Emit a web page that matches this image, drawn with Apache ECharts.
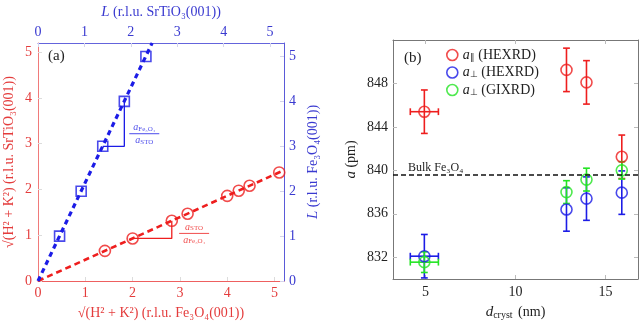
<!DOCTYPE html>
<html><head><meta charset="utf-8">
<script src="https://cdn.jsdelivr.net/npm/echarts@6/dist/echarts.min.js"></script>
<style>html,body{margin:0;padding:0;background:#fff}#c{width:640px;height:325px}</style>
</head><body><div id="c"></div>
<script>
// ---------- Panel (a) ----------
const redX = [1.414, 2.0, 2.828, 3.162, 4.0, 4.243, 4.472, 5.099];
const redY = [0.658, 0.93, 1.315, 1.47, 1.86, 1.973, 2.08, 2.372];
const blueX = [0.465, 0.93, 1.395, 1.86, 2.325];
const blueY = [1, 2, 3, 4, 5];
const redFitX = [0, 5.2];
const redFitY = [0, 2.42];
const blueFitX = [0, 2.46];
const blueFitY = [0, 5.3];
const redStepX = [2.0, 2.828, 2.828];
const redStepY = [0.93, 0.93, 1.315];
const blueStepX = [1.395, 1.86, 1.86];
const blueStepY = [3, 3, 4];
const redFracPos = [3.3, 1.04];
const blueFracPos = [2.29, 3.28];
const ticksA = [0, 1, 2, 3, 4, 5];
// ---------- Panel (b) ----------
const dCryst = [4.94, 12.83, 13.94, 15.9];
const dErr = [0.78, 0, 0, 0];
const aParHEX = [845.4, 849.25, 848.1, 841.25];
const aParHEXErr = [2, 2, 2, 2];
const aPerpHEX = [832.1, 836.4, 837.4, 837.95];
const aPerpHEXErr = [2, 2, 2, 2];
const aPerpGIX = [831.55, 838.0, 839.15, 840.0];
const aPerpGIXErr = [0.95, 1.05, 1.05, 0.8];
const bulkFe3O4 = 839.6;
const ticksBX = [5, 10, 15];
const ticksBY = [832, 836, 840, 844, 848];

const RED = 'rgb(238,30,30)', BLUE = 'rgb(28,28,230)', GREEN = 'rgb(35,228,35)';
const RED_T = '#e43c3c', BLUE_T = '#3a3ad0';
const FF = 'Liberation Serif';
const pairs = (xs, ys) => xs.map((x, i) => [x, ys[i]]);

function errRender(color) {
  return function (params, api) {
    const x = api.value(0), y = api.value(1), ey = api.value(2), ex = api.value(3);
    const c = api.coord([x, y]);
    const t = api.coord([x, y + ey]), b = api.coord([x, y - ey]);
    const cap = 3.4;
    const st = { stroke: color, lineWidth: 1.6 };
    const ch = [
      { type: 'line', shape: { x1: c[0], y1: t[1], x2: c[0], y2: b[1] }, style: st },
      { type: 'line', shape: { x1: c[0] - cap, y1: t[1], x2: c[0] + cap, y2: t[1] }, style: st },
      { type: 'line', shape: { x1: c[0] - cap, y1: b[1], x2: c[0] + cap, y2: b[1] }, style: st }
    ];
    if (ex > 0) {
      const l = api.coord([x - ex, y]), r = api.coord([x + ex, y]);
      ch.push({ type: 'line', shape: { x1: l[0], y1: c[1], x2: r[0], y2: c[1] }, style: st });
      ch.push({ type: 'line', shape: { x1: l[0], y1: c[1] - cap, x2: l[0], y2: c[1] + cap }, style: st });
      ch.push({ type: 'line', shape: { x1: r[0], y1: c[1] - cap, x2: r[0], y2: c[1] + cap }, style: st });
    }
    return { type: 'group', children: ch };
  };
}

function fracRich(color) {
  return {
    n: { fontFamily: FF, fontStyle: 'italic', fontSize: 10, color: color, lineHeight: 10 },
    s: { fontFamily: FF, fontSize: 7, color: color, lineHeight: 10, padding: [3, 0, 0, 0] },
    bar: { width: 30, height: 1, backgroundColor: color, lineHeight: 3, fontSize: 1 }
  };
}

const nameRich = (color) => ({
  color: color, fontFamily: FF, fontSize: 14,
  rich: { i: { fontStyle: 'italic', fontFamily: FF, fontSize: 15, color: color } }
});
const labStyle = (color, cv) => ({ color: color, fontFamily: FF, fontSize: 14, customValues: cv });

const chart = echarts.init(document.getElementById('c'), null, { renderer: 'canvas' });
chart.setOption({
  animation: false,
  backgroundColor: '#fff',
  grid: [
    { left: 38, top: 38, width: 246, height: 246 },
    { left: 393, top: 40, width: 245, height: 245 }
  ],
  xAxis: [
    { gridIndex: 0, type: 'value', position: 'bottom', min: 0, max: 5.2,
      axisLine: { onZero: false, lineStyle: { color: '#ee6060', width: 1 } },
      axisTick: { inside: true, length: 4, customValues: ticksA, lineStyle: { color: '#dcdcdc' } },
      axisLabel: Object.assign(labStyle(RED_T, ticksA), { margin: 5 }),
      splitLine: { show: false },
      name: '√(H² + K²) (r.l.u. Fe₃O₄(001))', nameLocation: 'middle', nameGap: 25,
      nameTextStyle: nameRich(RED_T) },
    { gridIndex: 0, type: 'value', position: 'top', min: 0, max: 5.3,
      axisLine: { onZero: false, lineStyle: { color: '#6464dc', width: 1 } },
      axisTick: { inside: true, length: 4, customValues: ticksA, lineStyle: { color: '#d4d4ec' } },
      axisLabel: Object.assign(labStyle(BLUE_T, ticksA), { margin: 4 }),
      splitLine: { show: false },
      name: '{i|L} (r.l.u. SrTiO₃(001))', nameLocation: 'middle', nameGap: 23,
      nameTextStyle: nameRich(BLUE_T) },
    { gridIndex: 1, type: 'value', position: 'bottom', min: 3.2, max: 16.8,
      axisLine: { onZero: false, lineStyle: { color: '#777', width: 1 } },
      axisTick: { inside: true, length: 4, customValues: ticksBX, lineStyle: { color: '#bbb' } },
      axisLabel: Object.assign(labStyle('#222', ticksBX), { margin: 6 }),
      splitLine: { show: false },
      name: '{i|d}{s|cryst} (nm)', nameLocation: 'middle', nameGap: 25,
      nameTextStyle: { color: '#222', fontFamily: FF, fontSize: 14,
        rich: { i: { fontStyle: 'italic', fontFamily: FF, fontSize: 15, color: '#222' },
                s: { fontFamily: FF, fontSize: 10, color: '#222', padding: [6, 2, 0, 0] } } } },
    { gridIndex: 1, type: 'value', position: 'top', min: 3.2, max: 16.8,
      axisLine: { onZero: false, lineStyle: { color: '#777', width: 1 } },
      axisTick: { inside: true, length: 4, customValues: ticksBX, lineStyle: { color: '#bbb' } },
      axisLabel: { show: false }, splitLine: { show: false } }
  ],
  yAxis: [
    { gridIndex: 0, type: 'value', position: 'left', min: 0, max: 5.2,
      axisLine: { onZero: false, lineStyle: { color: '#f07a7a', width: 1 } },
      axisTick: { inside: true, length: 4, customValues: ticksA, lineStyle: { color: '#dcdcdc' } },
      axisLabel: Object.assign(labStyle(RED_T, ticksA), { margin: 6 }),
      splitLine: { show: false },
      name: '√(H² + K²) (r.l.u. SrTiO₃(001))', nameLocation: 'middle', nameGap: 22,
      nameTextStyle: nameRich(RED_T) },
    { gridIndex: 0, type: 'value', position: 'right', min: 0, max: 5.3,
      axisLine: { onZero: false, lineStyle: { color: '#5a5ad8', width: 1 } },
      axisTick: { inside: true, length: 4, customValues: ticksA, lineStyle: { color: '#d4d4ec' } },
      axisLabel: Object.assign(labStyle(BLUE_T, ticksA), { margin: 5 }),
      splitLine: { show: false },
      name: '{i|L} (r.l.u. Fe₃O₄(001))', nameLocation: 'middle', nameGap: 22,
      nameTextStyle: nameRich(BLUE_T) },
    { gridIndex: 1, type: 'value', position: 'left', min: 830, max: 852,
      axisLine: { onZero: false, lineStyle: { color: '#777', width: 1 } },
      axisTick: { inside: true, length: 4, customValues: ticksBY, lineStyle: { color: '#bbb' } },
      axisLabel: Object.assign(labStyle('#222', ticksBY), { margin: 5 }),
      splitLine: { show: false },
      name: '{i|a} (pm)', nameLocation: 'middle', nameGap: 34,
      nameTextStyle: nameRich('#222') },
    { gridIndex: 1, type: 'value', position: 'right', min: 830, max: 852,
      axisLine: { onZero: false, lineStyle: { color: '#777', width: 1 } },
      axisTick: { inside: true, length: 4, customValues: ticksBY, lineStyle: { color: '#bbb' } },
      axisLabel: { show: false }, splitLine: { show: false } }
  ],
  legend: {
    left: 446, top: 48, padding: 0, orient: 'vertical', itemWidth: 11, itemHeight: 11, itemGap: 3.5,
    icon: 'circle',
    textStyle: { fontFamily: FF, fontSize: 14, color: '#222',
      rich: { i: { fontStyle: 'italic', fontFamily: FF, fontSize: 14, color: '#222' },
              s: { fontFamily: FF, fontSize: 9, color: '#222', padding: [5, 0, 0, 0] } } },
    formatter: function (name) {
      const m = name.split('|');
      return '{i|a}{s|' + m[0] + '} ' + m[1];
    },
    data: [
      { name: '∥|(HEXRD)', itemStyle: { color: 'rgba(0,0,0,0)', borderColor: RED, borderWidth: 1.6 } },
      { name: '⊥|(HEXRD)', itemStyle: { color: 'rgba(0,0,0,0)', borderColor: BLUE, borderWidth: 1.6 } },
      { name: '⊥|(GIXRD)', itemStyle: { color: 'rgba(0,0,0,0)', borderColor: GREEN, borderWidth: 1.6 } }
    ]
  },
  graphic: [
    { type: 'text', left: 48, top: 49, style: { text: '(a)', fontFamily: FF, fontSize: 15, fill: '#222' } },
    { type: 'text', left: 404, top: 51, style: { text: '(b)', fontFamily: FF, fontSize: 15, fill: '#222' } }
  ],
  series: [
    // Panel (a)
    { type: 'line', xAxisIndex: 0, yAxisIndex: 0, data: pairs(redFitX, redFitY), symbol: 'none',
      lineStyle: { color: RED, width: 2.6, type: [6, 4] }, silent: true },
    { type: 'line', xAxisIndex: 0, yAxisIndex: 0, data: pairs(redStepX, redStepY), symbol: 'none',
      lineStyle: { color: RED, width: 1.3 }, silent: true },
    { type: 'scatter', xAxisIndex: 0, yAxisIndex: 0, data: pairs(redX, redY), symbol: 'circle', symbolSize: 11,
      itemStyle: { color: 'rgba(0,0,0,0)', borderColor: RED, borderWidth: 1.6 }, z: 3 },
    { type: 'scatter', xAxisIndex: 0, yAxisIndex: 0, data: [redFracPos], symbolSize: 0,
      label: { show: true, position: 'inside', align: 'center', verticalAlign: 'middle',
        formatter: '{n|a}{s|STO}\n{bar| }\n{n|a}{s|Fe₃O₄}', rich: fracRich(RED) } },
    { type: 'line', xAxisIndex: 1, yAxisIndex: 1, data: pairs(blueFitX, blueFitY), symbol: 'none',
      lineStyle: { color: BLUE, width: 3.2, type: [5, 4] }, silent: true },
    { type: 'line', xAxisIndex: 1, yAxisIndex: 1, data: pairs(blueStepX, blueStepY), symbol: 'none',
      lineStyle: { color: BLUE, width: 1.3 }, silent: true },
    { type: 'scatter', xAxisIndex: 1, yAxisIndex: 1, data: pairs(blueX, blueY), symbol: 'rect', symbolSize: 10,
      itemStyle: { color: 'rgba(0,0,0,0)', borderColor: BLUE, borderWidth: 1.6 }, z: 3 },
    { type: 'scatter', xAxisIndex: 1, yAxisIndex: 1, data: [blueFracPos], symbolSize: 0,
      label: { show: true, position: 'inside', align: 'center', verticalAlign: 'middle',
        formatter: '{n|a}{s|Fe₃O₄}\n{bar| }\n{n|a}{s|STO}', rich: fracRich(BLUE) } },
    // Panel (b)
    { type: 'custom', xAxisIndex: 2, yAxisIndex: 2, renderItem: errRender(RED), encode: { x: 0, y: 1 },
      data: dCryst.map((x, i) => [x, aParHEX[i], aParHEXErr[i], dErr[i]]), z: 2 },
    { type: 'custom', xAxisIndex: 2, yAxisIndex: 2, renderItem: errRender(BLUE), encode: { x: 0, y: 1 },
      data: dCryst.map((x, i) => [x, aPerpHEX[i], aPerpHEXErr[i], dErr[i]]), z: 2 },
    { type: 'custom', xAxisIndex: 2, yAxisIndex: 2, renderItem: errRender(GREEN), encode: { x: 0, y: 1 },
      data: dCryst.map((x, i) => [x, aPerpGIX[i], aPerpGIXErr[i], dErr[i]]), z: 2 },
    { name: '∥|(HEXRD)', type: 'scatter', xAxisIndex: 2, yAxisIndex: 2, data: pairs(dCryst, aParHEX),
      symbol: 'circle', symbolSize: 11, itemStyle: { color: 'rgba(0,0,0,0)', borderColor: RED, borderWidth: 1.6 }, z: 3,
      markLine: { silent: true, symbol: 'none', data: [{ yAxis: bulkFe3O4 }],
        lineStyle: { color: '#111', width: 1.5, type: [5, 3] },
        label: { show: true, position: 'insideStartTop', formatter: 'Bulk Fe₃O₄', fontFamily: FF, fontSize: 12, color: '#222', distance: [15, 1] } } },
    { name: '⊥|(HEXRD)', type: 'scatter', xAxisIndex: 2, yAxisIndex: 2, data: pairs(dCryst, aPerpHEX),
      symbol: 'circle', symbolSize: 11, itemStyle: { color: 'rgba(0,0,0,0)', borderColor: BLUE, borderWidth: 1.6 }, z: 3 },
    { name: '⊥|(GIXRD)', type: 'scatter', xAxisIndex: 2, yAxisIndex: 2, data: pairs(dCryst, aPerpGIX),
      symbol: 'circle', symbolSize: 11, itemStyle: { color: 'rgba(0,0,0,0)', borderColor: GREEN, borderWidth: 1.6 }, z: 3 }
  ]
});
</script>
</body></html>
